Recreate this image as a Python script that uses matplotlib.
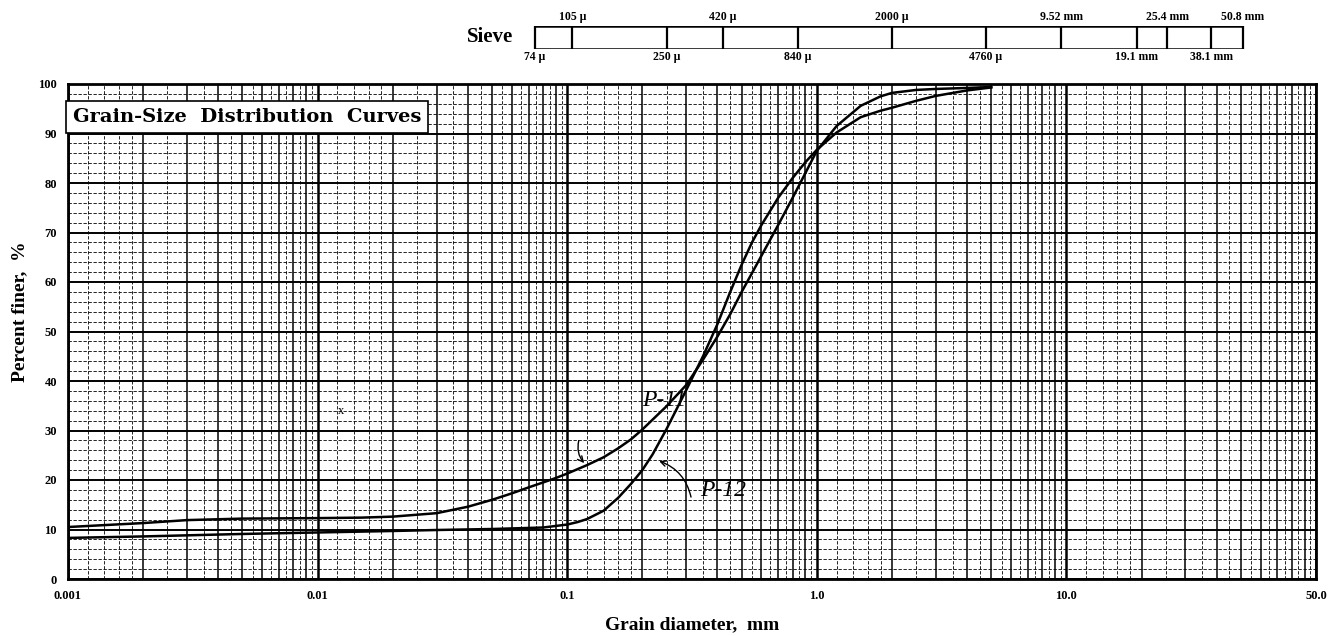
import numpy as np
import matplotlib.pyplot as plt
from matplotlib.transforms import blended_transform_factory

# Grain diameter (mm) and percent finer
p11_d = [0.001, 0.002, 0.003, 0.005, 0.01, 0.015, 0.02, 0.03, 0.04, 0.05, 0.06, 0.07,
         0.08, 0.09, 0.1, 0.12, 0.14, 0.16, 0.18, 0.2, 0.25, 0.3, 0.35, 0.4, 0.45,
         0.5, 0.55, 0.6, 0.7, 0.8, 0.9, 1.0, 1.2, 1.5, 1.8, 2.0, 2.5, 3.0, 4.0, 5.0]
p11_p = [10.5, 11.3, 11.9, 12.2, 12.3, 12.4, 12.6, 13.3, 14.6, 16.0, 17.3, 18.5,
         19.5, 20.4, 21.3, 23.0, 24.6, 26.4, 28.2, 30.2, 34.9, 39.2, 44.3, 49.0, 53.5,
         58.0, 61.8, 65.3, 71.5, 77.0, 82.0, 86.5, 91.5, 95.6, 97.5, 98.2, 98.8, 99.0, 99.2, 99.4]

p12_d = [0.001, 0.002, 0.005, 0.01, 0.02, 0.03, 0.05, 0.08, 0.1, 0.11, 0.12, 0.14,
         0.16, 0.18, 0.2, 0.22, 0.25, 0.28, 0.3, 0.35, 0.4, 0.45, 0.5, 0.55, 0.6,
         0.7, 0.8, 0.9, 1.0, 1.2, 1.5, 1.8, 2.0, 2.5, 3.0, 4.0, 5.0]
p12_p = [8.3, 8.6, 9.1, 9.4, 9.7, 9.9, 10.1, 10.4, 11.0, 11.5, 12.1, 13.8,
         16.4, 19.2, 22.0, 25.2, 30.3, 35.2, 38.2, 45.0, 51.5, 58.0, 63.5, 68.0, 71.5,
         77.0, 81.0, 84.2, 86.7, 90.2, 93.3, 94.6, 95.2, 96.6, 97.6, 98.7, 99.3]

# x axis ticks (the scan labels its right edge "50.0")
x_ticks = [0.001, 0.01, 0.1, 1.0, 10.0, 100.0]
x_tick_labels = ['0.001', '0.01', '0.1', '1.0', '10.0', '50.0']
y_ticks = [0, 10, 20, 30, 40, 50, 60, 70, 80, 90, 100]

# sieve openings (mm) for the bar above the chart
sieve_top = [0.105, 0.42, 2.0, 9.52, 25.4, 50.8]
sieve_top_labels = ['105 μ', '420 μ', '2000 μ', '9.52 mm', '25.4 mm', '50.8 mm']
sieve_bottom = [0.074, 0.25, 0.84, 4.76, 19.1, 38.1]
sieve_bottom_labels = ['74 μ', '250 μ', '840 μ', '4760 μ', '19.1 mm', '38.1 mm']

plt.rcParams['font.family'] = ['Liberation Serif', 'DejaVu Serif']

fig = plt.figure(figsize=(13.4, 6.36), dpi=100)
ax = fig.add_axes([68 / 1340, 57 / 636, 1248 / 1340, 495 / 636])
ax.set_xscale('log')
ax.set_xlim(0.001, 100)
ax.set_ylim(0, 100)

# graph-paper grid
for dec in [0.001, 0.01, 0.1, 1, 10]:
    for m in [1.2, 1.4, 1.6, 1.8, 2.5, 3.5, 4.5, 5.5, 6.5, 7.5, 8.5, 9.5]:
        ax.axvline(dec * m, color='black', lw=0.6, ls=(0, (4, 2)), zorder=1)
    for m in range(2, 10):
        ax.axvline(dec * m, color='black', lw=1.1, zorder=1)
for dec in [0.001, 0.01, 0.1, 1, 10, 100]:
    ax.axvline(dec, color='black', lw=1.8, zorder=1)
for yv in np.arange(0, 101, 2):
    if yv % 10 == 0:
        ax.axhline(yv, color='black', lw=1.4, zorder=1)
    else:
        ax.axhline(yv, color='black', lw=0.6, ls=(0, (4, 2)), zorder=1)

ax.plot(p11_d, p11_p, color='black', lw=1.8, zorder=3)
ax.plot(p12_d, p12_p, color='black', lw=1.8, zorder=3)

ax.set_xticks(x_ticks)
ax.set_xticklabels(x_tick_labels)
ax.xaxis.set_minor_locator(plt.NullLocator())
ax.set_yticks(y_ticks)
ax.tick_params(length=0, labelsize=9, pad=8)
for lab in ax.get_xticklabels() + ax.get_yticklabels():
    lab.set_fontweight('bold')
for s in ax.spines.values():
    s.set_linewidth(2)

ax.set_xlabel('Grain diameter,  mm', fontsize=14, fontweight='bold', labelpad=10)
ax.set_ylabel('Percent finer,  %', fontsize=14, fontweight='bold')
ax.yaxis.set_label_coords(-0.032, 0.54)

# title box inside the plot
ax.text(0.00105, 93.3, 'Grain-Size  Distribution  Curves', fontsize=14, fontweight='bold',
        family='DejaVu Serif', va='center', ha='left', zorder=5,
        bbox=dict(boxstyle='square,pad=0.35', fc='white', ec='black', lw=1.2))

# handwritten labels
ax.text(0.245, 36, 'P-11', fontsize=17, style='italic', ha='center', va='center', zorder=5)
ax.annotate('', xy=(0.119, 23), xytext=(0.112, 28.5),
            arrowprops=dict(arrowstyle='->', color='black', lw=1.0,
                            connectionstyle='arc3,rad=0.3'), zorder=5)
ax.text(0.42, 17.8, 'P-12', fontsize=17, style='italic', ha='center', va='center', zorder=5)
ax.annotate('', xy=(0.228, 24), xytext=(0.315, 16),
            arrowprops=dict(arrowstyle='->', color='black', lw=1.0,
                            connectionstyle='arc3,rad=0.3'), zorder=5)
ax.text(0.0124, 34.0, 'x', fontsize=9, ha='center', va='center', zorder=5)

# sieve bar
sx = fig.add_axes([68 / 1340, 587 / 636, 1248 / 1340, 23 / 636], sharex=ax)
sx.set_ylim(0, 1)
sx.axis('off')
all_sieves = sorted(sieve_top + sieve_bottom)
sx.hlines([0, 1], all_sieves[0], all_sieves[-1], color='black', lw=1.8)
for sv in all_sieves:
    sx.axvline(sv, color='black', lw=1.6)
for sv, lab in zip(sieve_top, sieve_top_labels):
    sx.text(sv, 1.15, lab, fontsize=8.5, fontweight='bold', ha='center', va='bottom')
for sv, lab in zip(sieve_bottom, sieve_bottom_labels):
    sx.text(sv, -0.1, lab, fontsize=8.5, fontweight='bold', ha='center', va='top')
tr = blended_transform_factory(fig.transFigure, sx.transAxes)
fig.text(490 / 1340, 0.5, 'Sieve', transform=tr, fontsize=15, fontweight='bold',
         ha='center', va='center')

fig.savefig('out.png', dpi=100, facecolor='white')
